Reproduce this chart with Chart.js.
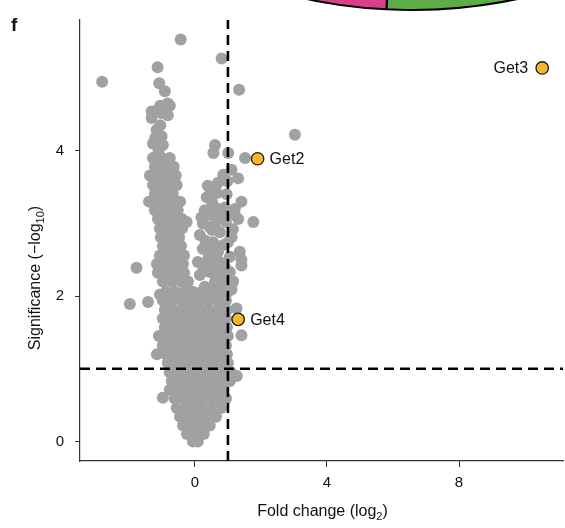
<!DOCTYPE html>
<html>
<head>
<meta charset="utf-8">
<script src="https://cdn.jsdelivr.net/npm/chart.js@4.4.1/dist/chart.umd.min.js"></script>
<style>
  html, body { margin: 0; padding: 0; background: #fff; overflow: hidden; }
  #wrap { position: relative; width: 565px; height: 528px; overflow: hidden; }
  #pieBox { position: absolute; left: -99px; top: -1011px; width: 1022px; height: 1022px; }
  #volcano { position: absolute; left: 0; top: 0; }
</style>
</head>
<body>
<div id="wrap">
  <div id="pieBox"><canvas id="pie" width="1022" height="1022"></canvas></div>
  <canvas id="volcano" width="565" height="528"></canvas>
</div>
<script>
// tick labels and cut-offs
const xTicks = [0, 4, 8];
const yTicks = [0, 2, 4];
const foldCut = 1;
const sigCut = 1;

// labelled hits
const hitNames = ["Get2", "Get3", "Get4"];
const hitFold = [1.90, 10.52, 1.31];
const hitSig = [3.89, 5.14, 1.68];

// all other proteins [fold change (log2), significance (-log10)]
const otherProteins = [
  [-0.43,5.53],[0.81,5.27],[-2.81,4.95],[1.34,4.84],[-1.13,5.15],[-1.08,4.93],[-0.91,4.82],
  [-1.12,4.56],[-0.82,4.65],[-1.31,4.54],[-0.76,4.62],[-1.31,4.45],[-0.82,4.49],[-1.00,4.52],[-1.05,4.62],
  [-1.16,4.29],[-1.01,4.20],[-1.27,4.10],[-0.97,4.08],[-1.10,4.00],[-1.20,4.18],[-1.05,4.35],
  [-1.27,3.90],[-1.00,3.90],[-0.76,3.90],
  [-1.21,3.78],[-0.94,3.78],[-0.64,3.78],
  [-1.36,3.66],[-1.09,3.66],[-0.82,3.66],[-0.58,3.66],
  [-1.27,3.53],[-1.00,3.53],[-0.73,3.53],[-0.55,3.53],
  [-1.21,3.41],[-0.94,3.41],[-0.67,3.41],
  [-1.39,3.30],[-1.12,3.30],[-0.85,3.30],[-0.58,3.30],[-0.45,3.30],
  [-1.21,3.18],[-0.94,3.18],[-0.67,3.18],[-0.52,3.18],
  [-1.12,3.06],[-0.85,3.06],[-0.58,3.06],[-0.39,3.06],[-0.25,3.02],
  [-1.06,2.93],[-0.79,2.93],[-0.55,2.93],[-0.39,2.93],
  [-1.03,2.81],[-0.76,2.81],[-0.48,2.81],
  [-0.97,2.69],[-0.70,2.69],[-0.42,2.69],
  [-1.06,2.56],[-0.82,2.56],[-0.55,2.56],[-0.33,2.56],
  [-1.15,2.44],[-0.88,2.44],[-0.61,2.44],[-0.36,2.44],[-1.77,2.39],
  [-1.12,2.32],[-0.85,2.32],[-0.58,2.32],[-0.33,2.32],
  [-0.97,2.20],[-0.70,2.20],[-0.42,2.20],[-0.21,2.20],
  [3.03,4.22],[0.61,4.08],[0.56,3.97],[1.01,3.97],[1.52,3.90],
  [0.86,3.67],[1.11,3.74],[1.31,3.62],[0.98,3.58],[0.70,3.56],
  [0.45,3.49],[0.96,3.40],[0.39,3.52],[0.67,3.42],
  [1.41,3.30],[1.21,3.20],[1.31,3.06],[1.77,3.02],
  [0.30,3.18],[1.21,3.12],[0.20,3.08],[0.66,3.06],[0.42,3.12],
  [0.36,3.36],[0.52,3.29],[0.61,3.22],[0.91,3.22],[0.82,3.12],[0.94,3.02],
  [0.15,2.84],[0.76,2.88],[1.15,2.92],[0.45,2.95],[0.52,2.91],[0.24,3.00],[0.60,2.98],
  [1.11,2.81],[0.24,2.65],[0.85,2.70],[0.55,2.74],[1.00,2.74],[0.70,2.61],[1.36,2.61],[0.32,2.76],[0.42,2.62],
  [0.09,2.47],[0.76,2.47],[1.41,2.50],[0.42,2.54],[1.06,2.54],[0.30,2.44],[0.91,2.40],[1.41,2.42],[0.62,2.50],[0.60,2.38],
  [0.15,2.29],[0.76,2.29],[0.45,2.33],[1.06,2.33],[0.26,2.36],
  [0.61,2.20],[0.94,2.20],[1.16,2.20],[0.30,2.13],[0.82,2.13],[1.11,2.09],[0.50,2.10],
  [-0.88,2.06],[-0.61,2.06],[-0.33,2.06],[-0.06,2.06],[0.21,2.06],[0.48,2.06],[0.76,2.06],[1.00,2.06],
  [-0.97,1.94],[-0.70,1.94],[-0.42,1.94],[-0.15,1.94],[0.12,1.94],[0.39,1.94],[0.67,1.94],[0.94,1.94],
  [-1.42,1.92],[-1.97,1.89],[-1.06,2.02],
  [-0.91,1.81],[-0.64,1.81],[-0.36,1.81],[-0.09,1.81],[0.18,1.81],[0.45,1.81],[0.73,1.81],[0.97,1.81],[1.26,1.83],
  [-0.97,1.69],[-0.70,1.69],[-0.42,1.69],[-0.15,1.69],[0.12,1.69],[0.39,1.69],[0.67,1.69],[0.94,1.69],
  [-0.91,1.57],[-0.64,1.57],[-0.36,1.57],[-0.09,1.57],[0.18,1.57],[0.45,1.57],[0.73,1.57],[0.97,1.57],
  [-1.09,1.45],[-0.82,1.45],[-0.55,1.45],[-0.27,1.45],[0.00,1.45],[0.27,1.45],[0.55,1.45],[0.82,1.45],[1.00,1.45],[1.41,1.46],
  [-0.97,1.32],[-0.70,1.32],[-0.42,1.32],[-0.15,1.32],[0.12,1.32],[0.39,1.32],[0.67,1.32],[0.94,1.32],
  [-1.15,1.20],[-0.88,1.20],[-0.61,1.20],[-0.33,1.20],[-0.06,1.20],[0.21,1.20],[0.48,1.20],[0.76,1.20],[0.97,1.20],
  [-0.82,1.08],[-0.55,1.08],[-0.27,1.08],[0.00,1.08],[0.27,1.08],[0.55,1.08],[0.82,1.08],[1.00,1.08],
  [-0.76,0.95],[-0.48,0.95],[-0.21,0.95],[0.06,0.95],[0.33,0.95],[0.61,0.95],[0.88,0.95],[1.09,0.95],
  [1.27,0.90],[1.06,0.83],
  [-0.70,0.83],[-0.42,0.83],[-0.15,0.83],[0.12,0.83],[0.39,0.83],[0.67,0.83],[0.91,0.83],
  [-0.76,0.71],[-0.52,0.71],[-0.24,0.71],[0.03,0.71],[0.30,0.71],[0.58,0.71],[0.85,0.71],
  [-0.97,0.60],
  [-0.61,0.59],[-0.33,0.59],[-0.06,0.59],[0.21,0.59],[0.48,0.59],[0.76,0.59],[0.94,0.59],
  [-0.55,0.46],[-0.27,0.46],[0.00,0.46],[0.27,0.46],[0.55,0.46],[0.79,0.46],
  [-0.45,0.34],[-0.18,0.34],[0.09,0.34],[0.36,0.34],[0.64,0.34],
  [-0.36,0.22],[-0.09,0.22],[0.18,0.22],[0.45,0.22],
  [-0.24,0.10],[0.03,0.10],[0.27,0.10],
  [-0.06,0.00],[0.09,0.00]
];

// neighbouring panel (only its lower rim is visible)
const pieLabels = ["green", "pink"];
const pieValues = [50.8, 49.2];

const X_MIN = -3.48, X_MAX = 11.15;
const Y_MIN = -0.27, Y_MAX = 5.8;
const FONT = "'Liberation Sans', Arial, Helvetica, sans-serif";

new Chart(document.getElementById("pie"), {
  type: "pie",
  data: {
    labels: pieLabels,
    datasets: [{ data: pieValues, backgroundColor: ["#5dac48", "#d8408c"], borderColor: "#000", borderWidth: 2 }]
  },
  options: {
    responsive: false,
    animation: false,
    events: [],
    layout: { padding: 0 },
    plugins: { legend: { display: false }, tooltip: { enabled: false } }
  }
});

function drawWithSub(ctx, parts, x, y) {
  // parts: [text, isSub]; centred on x, baseline y
  const big = "16px " + FONT, small = "11px " + FONT;
  let total = 0;
  parts.forEach(p => { ctx.font = p[1] ? small : big; total += ctx.measureText(p[0]).width; });
  let cx = x - total / 2;
  ctx.textAlign = "left";
  ctx.textBaseline = "alphabetic";
  parts.forEach(p => {
    ctx.font = p[1] ? small : big;
    ctx.fillText(p[0], cx, p[1] ? y + 4 : y);
    cx += ctx.measureText(p[0]).width;
  });
}

const annotate = {
  id: "annotate",
  afterDatasetsDraw(chart) {
    const ctx = chart.ctx;
    const xs = chart.scales.x, ys = chart.scales.y;
    ctx.save();
    ctx.fillStyle = "#111";
    ctx.font = "16px " + FONT;
    ctx.textBaseline = "middle";
    hitNames.forEach((name, i) => {
      const px = xs.getPixelForValue(hitFold[i]);
      const py = ys.getPixelForValue(hitSig[i]) + 1;
      if (hitFold[i] > 8) {
        ctx.textAlign = "right";
        ctx.fillText(name, px - 14, py);
      } else {
        ctx.textAlign = "left";
        ctx.fillText(name, px + 12, py);
      }
    });
    ctx.restore();
  },
  afterDraw(chart) {
    const ctx = chart.ctx;
    const area = chart.chartArea;
    ctx.save();
    ctx.fillStyle = "#111";
    // panel letter
    ctx.font = "bold 19px " + FONT;
    ctx.textAlign = "left";
    ctx.textBaseline = "alphabetic";
    ctx.fillText("f", 11, 31);
    // x title
    drawWithSub(ctx, [["Fold change (log", false], ["2", true], [")", false]], (area.left + area.right) / 2 + 1, 516);
    // y title
    ctx.translate(39.5, 278);
    ctx.rotate(-Math.PI / 2);
    drawWithSub(ctx, [["Significance (\u2212log", false], ["10", true], [")", false]], 0, 0);
    ctx.restore();
  }
};

const axisCommon = {
  grid: { display: true, drawOnChartArea: false, drawTicks: true, color: "#333", tickColor: "#333", tickWidth: 1 },
  border: { display: true, color: "#333", width: 1.2 },
  ticks: { color: "#111", font: { size: 15, family: FONT } }
};

new Chart(document.getElementById("volcano"), {
  type: "scatter",
  data: {
    datasets: [
      {
        label: "hits",
        order: 0,
        data: hitFold.map((v, i) => ({ x: v, y: hitSig[i] })),
        pointRadius: 6.2,
        backgroundColor: "#f6b82a",
        borderColor: "#1a1a1a",
        borderWidth: 1.3
      },
      {
        label: "fold cut",
        type: "line",
        order: 1,
        data: [{ x: foldCut, y: Y_MIN }, { x: foldCut, y: Y_MAX }],
        borderColor: "#000",
        borderWidth: 2.6,
        borderDash: [10, 6],
        pointRadius: 0,
        fill: false
      },
      {
        label: "significance cut",
        type: "line",
        order: 1,
        data: [{ x: X_MIN, y: sigCut }, { x: X_MAX, y: sigCut }],
        borderColor: "#000",
        borderWidth: 2.6,
        borderDash: [10, 6],
        pointRadius: 0,
        fill: false
      },
      {
        label: "proteins",
        order: 2,
        data: otherProteins.map(p => ({ x: p[0], y: p[1] })),
        pointRadius: 6,
        backgroundColor: "#a0a1a3",
        borderWidth: 0
      }
    ]
  },
  options: {
    responsive: false,
    animation: false,
    events: [],
    layout: { autoPadding: false, padding: { top: 16, right: 2, left: 0, bottom: 0 } },
    plugins: { legend: { display: false }, tooltip: { enabled: false } },
    scales: {
      x: {
        type: "linear",
        min: X_MIN,
        max: X_MAX,
        afterBuildTicks: s => { s.ticks = xTicks.map(v => ({ value: v })); },
        afterFit: s => { s.height = 67; },
        grid: { ...axisCommon.grid, tickLength: 6 },
        border: axisCommon.border,
        ticks: { ...axisCommon.ticks, padding: 7, maxRotation: 0 }
      },
      y: {
        type: "linear",
        min: Y_MIN,
        max: Y_MAX,
        afterBuildTicks: s => { s.ticks = yTicks.map(v => ({ value: v })); },
        afterFit: s => { s.width = 80; },
        grid: { ...axisCommon.grid, tickLength: 5 },
        border: axisCommon.border,
        ticks: { ...axisCommon.ticks, padding: 11 }
      }
    }
  },
  plugins: [annotate]
});
</script>
</body>
</html>
